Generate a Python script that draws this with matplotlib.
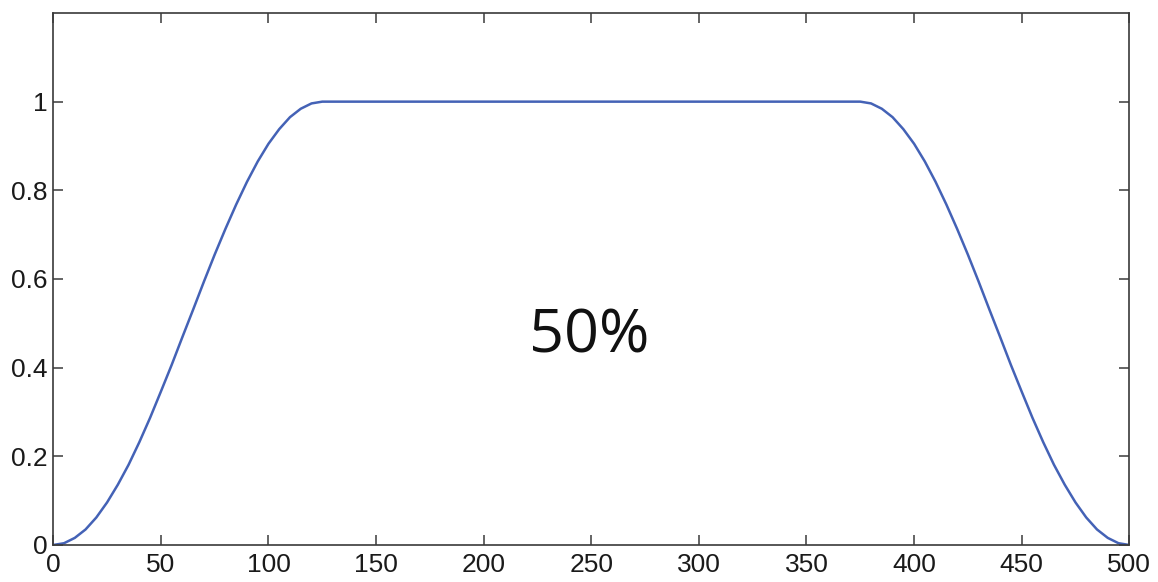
import numpy as np
import matplotlib
matplotlib.use('Agg')
import matplotlib.pyplot as plt

# window values (rise, flat top, fall)
x_rise = [0, 5, 10, 15, 20, 25, 30, 35, 40, 45, 50, 55, 60, 65, 70, 75, 80, 85, 90, 95, 100, 105, 110, 115, 120, 125]
y_rise = [0.0, 0.004, 0.016, 0.035, 0.062, 0.096, 0.136, 0.181, 0.232, 0.287, 0.346, 0.406, 0.469,
          0.531, 0.594, 0.655, 0.713, 0.768, 0.819, 0.865, 0.905, 0.938, 0.965, 0.984, 0.996, 1.0]
x_top = [125, 375]
y_top = [1.0, 1.0]
x_fall = [375, 380, 385, 390, 395, 400, 405, 410, 415, 420, 425, 430, 435, 440, 445, 450, 455, 460,
          465, 470, 475, 480, 485, 490, 495, 500]
y_fall = [1.0, 0.996, 0.984, 0.965, 0.938, 0.905, 0.865, 0.819, 0.768, 0.713, 0.655, 0.594, 0.531,
          0.469, 0.406, 0.346, 0.287, 0.232, 0.181, 0.136, 0.096, 0.062, 0.035, 0.016, 0.004, 0.0]
label = '50%'

xs = x_rise + x_top[1:] + x_fall[1:]
ys = y_rise + y_top[1:] + y_fall[1:]

fig = plt.figure(figsize=(11.58, 5.82), dpi=100)
ax = fig.add_axes([0.046, 0.0636, 0.9292, 0.9141])
ax.plot(xs, ys, color='#4462b6', lw=1.8, solid_joinstyle='round')
ax.set_xlim(0, 500)
ax.set_ylim(0, 1.2)
ax.set_xticks(np.arange(0, 501, 50))
ax.set_yticks([0, 0.2, 0.4, 0.6, 0.8, 1])
ax.set_yticklabels(['0', '0.2', '0.4', '0.6', '0.8', '1'])
for s in ax.spines.values():
    s.set_color('#3a3a3a')
    s.set_linewidth(1.2)
ax.tick_params(direction='in', length=7, width=1.1, color='#3a3a3a',
               top=True, right=True, labelsize=19, labelcolor='#1a1a1a')
ax.tick_params(axis='y', pad=4)
ax.tick_params(axis='x', pad=6)
for t in ax.get_xticklabels() + ax.get_yticklabels():
    t.set_family('Liberation Sans')

ax.text(249, 0.435, label, ha='center', va='baseline', fontsize=44,
        family='Open Sans', color='#111111')

fig.savefig('out.png', dpi=100, facecolor='white')
